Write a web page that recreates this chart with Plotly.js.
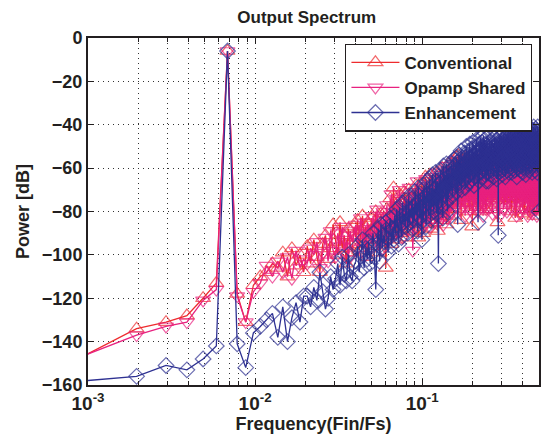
<!DOCTYPE html>
<html>
<head>
<meta charset="utf-8">
<script src="https://cdn.plot.ly/plotly-3.0.1.min.js"></script>
<style>html,body{margin:0;padding:0;background:#fff;}#chart{width:546px;height:443px;}</style>
</head>
<body>
<div id="chart"></div>
<script>
// FFT length and bin numbers (frequency = bin / nfft)
const nfft = 1024;
const seriesNames = ['Conventional', 'Opamp Shared', 'Enhancement'];
const xTickVals = [0.001, 0.01, 0.1];
const xTickText = ['10<sup>-3</sup>', '10<sup>-2</sup>', '10<sup>-1</sup>'];
const yTickVals = [0, -20, -40, -60, -80, -100, -120, -140, -160];

const conventional = [
-146,-134,-131,-128,-120,-113,-6,-118,-131,-114,
-110,-108,-104,-106,-99,-110,-97,-105,-100,-108,
-96,-104,-93,-101,-108,-95,-91,-102,-97,-86,
-94,-100,-85,-97,-91,-104,-88,-95,-99,-87,
-92,-84,-98,-89,-82,-95,-87,-101,-86,-90,
-83,-96,-88,-80,-93,-85,-99,-81,-90,-87,
-84,-106,-79,-91,-86,-74,-95,-82,-69,-88,
-80,-93,-76,-87,-72,-84,-90,-77,-83,-71,
-86,-75,-92,-79,-70,-84,-88,-74,-81,-77,
-73,-89,-78,-68,-85,-76,-92,-71,-80,-74,
-82,-67,-78,-90,-72,-76,-64,-86,-75,-80,
-70,-84,-74,-63,-79,-88,-71,-76,-66,-82,
-73,-69,-85,-62,-77,-72,-89,-68,-75,-80,
-66,-78,-71,-84,-60,-74,-81,-69,-76,-65,
-79,-70,-86,-63,-73,-77,-58,-82,-68,-74,
-68,-75,-60,-71,-64,-79,-62,-69,-73,-63,
-70,-58,-74,-65,-55,-69,-77,-54,-66,-72,
-61,-73,-57,-68,-84,-63,-56,-70,-75,-60,
-67,-72,-59,-76,-64,-55,-69,-74,-61,-66,
-63,-75,-57,-70,-65,-80,-58,-68,-72,-61,
-66,-73,-60,-87,-64,-57,-71,-67,-76,-62,
-69,-56,-74,-64,-59,-72,-78,-63,-67,-58,
-72,-61,-66,-76,-56,-69,-64,-80,-60,-70,
-59,-73,-66,-62,-77,-57,-68,-71,-63,-75,
-65,-60,-71,-67,-79,-58,-69,-64,-74,-61,
-68,-55,-68,-66,-62,-72,-59,-70,-67,-71,
-61,-71,-65,-58,-74,-68,-63,-79,-59,-69,
-73,-62,-67,-70,-57,-70,-64,-68,-60,-66,
-66,-71,-59,-72,-63,-68,-70,-61,-85,-65,
-58,-72,-69,-62,-74,-64,-56,-70,-67,-68,
-61,-68,-73,-60,-65,-71,-63,-69,-57,-71,
-67,-61,-66,-70,-59,-73,-64,-68,-77,-62,
-67,-72,-58,-69,-66,-62,-65,-74,-60,-68,
-63,-70,-66,-71,-56,-69,-73,-61,-67,-65,
-64,-59,-70,-74,-62,-68,-57,-72,-80,-61,
-69,-65,-60,-67,-67,-63,-71,-58,-69,-66,
-62,-73,-66,-68,-56,-70,-64,-68,-83,-60,
-67,-71,-59,-65,-74,-62,-69,-57,-72,-66,
-76,-61,-68,-64,-70,-58,-67,-63,-69,-60,
-73,-66,-62,-69,-65,-69,-56,-71,-67,-63,
-70,-68,-60,-66,-72,-63,-68,-57,-79,-64,
-62,-71,-67,-74,-59,-69,-65,-81,-61,-72,
-66,-58,-73,-64,-70,-68,-60,-67,-72,-63,
-69,-67,-59,-65,-71,-62,-76,-64,-68,-56,
-72,-61,-67,-68,-63,-70,-58,-80,-66,-71,
-60,-68,-74,-63,-65,-57,-71,-69,-64,-69,
-62,-73,-67,-59,-78,-64,-70,-66,-58,-72,
-68,-70,-61,-71,-65,-74,-60,-69,-82,-63,
-67,-72,-57,-70,-65,-69,-62,-68,-64,-75,
-60,-71,-66,-79,-63,-69,-58,-73,-65,-70,
-68,-61,-68,-64,-74,-59,-70,-78,-65,-67,
-72,-76];

const opampShared = [
-146,-137,-133,-131,-121,-116,-6,-119,-131,-117,
-113,-105,-110,-103,-108,-101,-111,-98,-106,-102,
-104,-97,-100,-94,-106,-99,-92,-103,-89,-98,
-101,-90,-96,-87,-99,-93,-102,-89,-94,-91,
-86,-97,-90,-83,-94,-88,-100,-85,-92,-89,
-95,-82,-89,-91,-79,-94,-86,-83,-97,-80,
-90,-84,-77,-93,-82,-88,-72,-85,-91,-78,
-87,-74,-83,-89,-70,-86,-79,-92,-75,-81,
-78,-88,-73,-84,-80,-69,-86,-76,-83,-98,
-80,-71,-87,-75,-82,-66,-84,-78,-72,-89,
-74,-83,-69,-79,-86,-71,-77,-65,-82,-75,
-81,-68,-76,-87,-72,-79,-64,-83,-73,-70,
-78,-85,-66,-74,-80,-70,-62,-82,-76,-69,
-84,-71,-77,-63,-79,-73,-86,-67,-75,-61,
-72,-80,-68,-76,-59,-83,-70,-74,-65,-81,
-73,-62,-70,-80,-65,-68,-58,-75,-66,-71,
-61,-74,-67,-78,-56,-70,-64,-69,-76,-59,
-71,-65,-79,-60,-68,-73,-57,-70,-64,-77,
-62,-69,-74,-58,-82,-66,-71,-61,-72,-67,
-76,-63,-68,-56,-73,-70,-65,-79,-60,-71,
-65,-71,-59,-75,-67,-62,-81,-64,-69,-73,
-58,-70,-77,-65,-72,-61,-67,-74,-63,-80,
-68,-60,-73,-66,-57,-76,-70,-64,-78,-65,
-71,-62,-75,-67,-59,-73,-82,-65,-69,-61,
-77,-66,-71,-58,-73,-64,-68,-79,-62,-74,
-67,-60,-72,-68,-65,-70,-56,-73,-68,-63,
-78,-66,-69,-61,-67,-71,-59,-67,-72,-81,
-64,-70,-58,-74,-66,-72,-62,-69,-68,-65,
-73,-60,-71,-67,-80,-63,-69,-66,-57,-67,
-70,-64,-68,-61,-68,-72,-66,-82,-62,-71,
-59,-74,-67,-65,-70,-69,-63,-72,-67,-60,
-68,-73,-62,-79,-66,-70,-58,-74,-67,-68,
-64,-71,-69,-61,-66,-74,-69,-59,-80,-65,
-72,-60,-67,-67,-64,-70,-73,-62,-73,-68,
-58,-72,-66,-78,-69,-63,-67,-67,-71,-61,
-68,-65,-68,-59,-74,-70,-64,-72,-67,-72,
-62,-67,-69,-66,-79,-60,-73,-67,-63,-69,
-70,-65,-74,-58,-71,-82,-66,-68,-61,-73,
-67,-70,-63,-72,-66,-69,-68,-59,-73,-64,
-67,-68,-62,-81,-66,-71,-60,-74,-69,-65,
-72,-61,-68,-67,-64,-73,-70,-57,-78,-66,
-68,-73,-63,-67,-60,-71,-72,-66,-69,-62,
-74,-65,-70,-77,-58,-72,-67,-64,-71,-68,
-62,-73,-66,-71,-68,-61,-69,-82,-65,-72,
-67,-59,-67,-70,-63,-70,-66,-73,-60,-68,
-74,-64,-71,-66,-80,-62,-69,-73,-58,-69,
-65,-72,-68,-61,-67,-67,-81,-63,-70,-66,
-73,-60,-68,-69,-64,-71,-67,-79,-62,-74,
-68,-66,-72,-59,-70,-70,-65,-67,-67,-63,
-71,-69,-61,-73,-66,-69,-82,-64,-67,-68,
-62,-72,-67,-78,-65,-70,-60,-74,-68,-76,
-66,-75];

const enhancement = [
-158,-156,-151,-153,-148,-142,-6,-141,-152,-136,
-133,-130,-127,-138,-124,-140,-129,-122,-131,-119,
-119,-124,-115,-121,-108,-117,-125,-120,-110,-116,
-111,-104,-114,-101,-109,-112,-100,-110,-112,-105,
-103,-96,-108,-99,-93,-106,-97,-102,-94,-104,
-96,-90,-101,-116,-95,-88,-103,-86,-97,-91,
-94,-85,-92,-99,-87,-83,-96,-88,-93,-82,
-90,-79,-86,-95,-78,-88,-92,-76,-85,-81,
-87,-75,-84,-90,-73,-85,-79,-82,-74,-88,
-78,-84,-71,-81,-76,-89,-69,-79,-83,-72,
-79,-93,-70,-84,-68,-77,-73,-87,-66,-76,
-72,-82,-65,-75,-84,-69,-78,-63,-73,-80,
-70,-77,-62,-74,-81,-66,-72,-104,-64,-75,
-71,-61,-78,-66,-70,-83,-59,-72,-68,-63,
-69,-76,-58,-67,-80,-62,-74,-60,-66,-71,
-63,-70,-58,-66,-73,-60,-65,-56,-68,-62,
-66,-59,-71,-55,-64,-61,-86,-57,-67,-54,
-62,-68,-56,-63,-52,-70,-59,-65,-55,-61,
-58,-66,-53,-62,-69,-55,-60,-50,-64,-57,
-61,-54,-67,-52,-59,-63,-49,-66,-56,-60,
-55,-62,-51,-65,-57,-48,-60,-53,-68,-56,
-59,-50,-64,-54,-61,-47,-58,-63,-52,-57,
-85,-53,-60,-49,-66,-55,-51,-62,-46,-58,
-54,-61,-48,-57,-64,-50,-56,-45,-60,-53,
-58,-47,-63,-52,-55,-49,-66,-51,-57,-46,
-54,-62,-50,-57,-66,-51,-56,-59,-48,-60,
-57,-53,-63,-50,-56,-58,-47,-61,-55,-52,
-59,-53,-49,-64,-55,-51,-58,-46,-57,-54,
-50,-60,-52,-56,-47,-65,-54,-51,-59,-49,
-55,-91,-48,-57,-62,-50,-53,-46,-60,-52,
-49,-58,-54,-45,-61,-51,-56,-48,-63,-50,
-53,-47,-59,-51,-44,-57,-52,-60,-48,-55,
-50,-64,-46,-54,-49,-58,-45,-56,-52,-61,
-48,-53,-57,-44,-59,-50,-47,-62,-51,-46,
-55,-49,-60,-45,-52,-56,-43,-58,-50,-53,
-47,-62,-51,-44,-57,-49,-54,-46,-60,-50,
-52,-45,-58,-48,-55,-43,-61,-50,-47,-56,
-44,-53,-49,-59,-46,-51,-64,-47,-54,-42,
-57,-48,-52,-45,-60,-49,-43,-55,-50,-58,
-46,-53,-41,-56,-49,-61,-47,-51,-44,-57,
-50,-45,-59,-48,-53,-42,-56,-47,-62,-51,
-44,-55,-49,-58,-46,-52,-41,-57,-48,-54,
-60,-47,-51,-43,-56,-49,-63,-45,-52,-48,
-55,-42,-58,-50,-46,-53,-44,-59,-49,-47,
-52,-57,-43,-50,-61,-46,-54,-41,-56,-48,
-45,-53,-49,-60,-44,-51,-47,-58,-42,-55,
-50,-46,-57,-43,-52,-62,-48,-54,-45,-51,
-59,-44,-50,-47,-55,-41,-53,-49,-58,-46,
-52,-43,-56,-48,-61,-45,-50,-54,-42,-57,
-47,-53,-44,-59,-49,-51,-43,-56,-48,-62,
-46,-52,-41,-55,-50,-58,-44,-49,-53,-47,
-54,-80];

const bins = conventional.map((_, i) => i + 1);
const freq = bins.map(k => k / nfft);

const colors = ['#ee2b2e', '#e8217f', '#2e3192'];
const symbols = ['triangle-up-open', 'triangle-down-open', 'diamond-open'];
const msize = [13, 13, 12];
const allY = [conventional, opampShared, enhancement];

const traces = allY.map((y, i) => ({
  type: 'scatter',
  mode: 'lines+markers',
  name: seriesNames[i],
  x: freq,
  y: y,
  line: {color: colors[i], width: 1.3},
  marker: {
    symbol: symbols[i],
    size: freq.map(f => f < 0.001 ? 0 : msize[i]),
    color: colors[i],
    line: {color: colors[i], width: 1.2}
  },
  cliponaxis: true
}));

const fontFam = 'Liberation Sans, Arial, Helvetica, sans-serif';
const ink = '#231f20';
const layout = {
  width: 546, height: 443,
  margin: {l: 88, r: 7, t: 38, b: 58},
  paper_bgcolor: '#fff', plot_bgcolor: '#fff',
  font: {family: fontFam, size: 17, color: ink, weight: 'bold'},
  title: {text: 'Output Spectrum', font: {family: fontFam, size: 17, weight: 'bold', color: ink},
          xref: 'paper', x: 0.485, xanchor: 'center', yref: 'container', y: 0.962, yanchor: 'middle'},
  showlegend: true,
  legend: {
    x: 0.985, y: 0.984, xanchor: 'right', yanchor: 'top',
    bgcolor: '#fff', bordercolor: ink, borderwidth: 1.2,
    font: {family: fontFam, size: 17, weight: 'bold', color: ink},
    itemsizing: 'trace', itemwidth: 48, tracegroupgap: 0
  },
  xaxis: {
    type: 'log',
    range: [-3, Math.log10(0.5)],
    tickvals: xTickVals, ticktext: xTickText,
    ticks: 'inside', ticklen: 6, tickwidth: 1, tickcolor: ink,
    showline: true, linecolor: ink, linewidth: 2, mirror: 'ticks',
    showgrid: true, gridcolor: '#333', griddash: '1px,4px', gridwidth: 1,
    minor: {dtick: 'D1', ticks: 'inside', ticklen: 4, tickcolor: ink, showgrid: true, gridcolor: '#333', griddash: '1px,4px', gridwidth: 1},
    zeroline: false,
    tickfont: {family: fontFam, size: 19, weight: 'bold', color: ink},
    title: {text: 'Frequency(Fin/Fs)', font: {family: fontFam, size: 18, weight: 'bold', color: ink}, standoff: 2}
  },
  yaxis: {
    range: [-160, 0],
    tickvals: yTickVals,
    ticks: 'inside', ticklen: 6, tickwidth: 1, tickcolor: ink,
    showline: true, linecolor: ink, linewidth: 2, mirror: 'ticks',
    showgrid: true, gridcolor: '#333', griddash: '1px,4px', gridwidth: 1,
    zeroline: false,
    tickfont: {family: fontFam, size: 18, weight: 'bold', color: ink},
    title: {text: 'Power [dB]', font: {family: fontFam, size: 18, weight: 'bold', color: ink}, standoff: 8}
  }
};

Plotly.newPlot('chart', traces, layout, {staticPlot: true, displayModeBar: false});
</script>
</body>
</html>
